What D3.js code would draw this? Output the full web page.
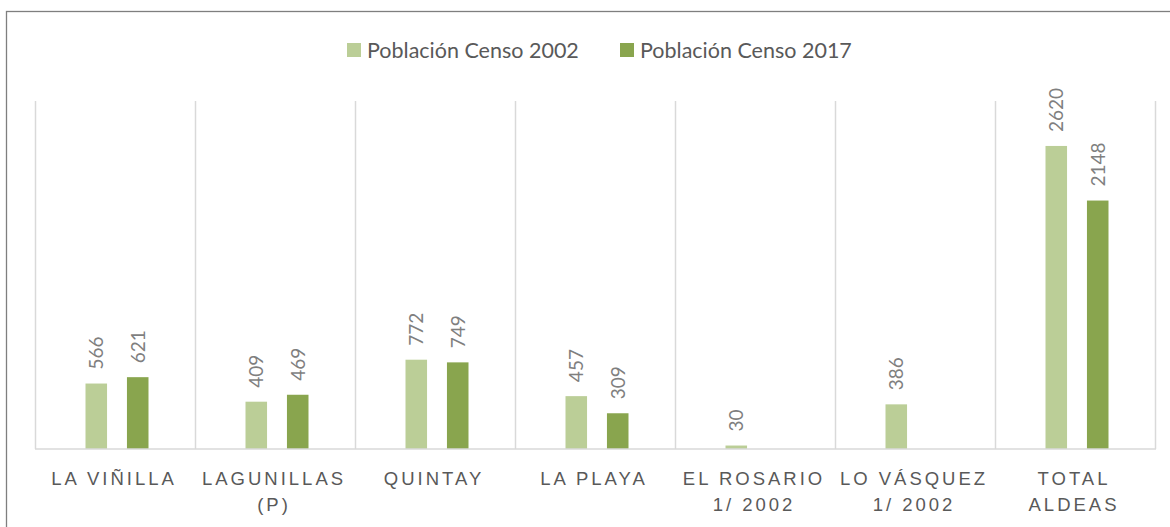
<!DOCTYPE html>
<html><head><meta charset="utf-8">
<script src="https://cdn.jsdelivr.net/npm/d3@7"></script>
<style>
html,body{margin:0;padding:0;background:#fff;}
svg{display:block;font-family:Lato,"Open Sans",sans-serif;}
</style></head>
<body><svg id="chart" width="1170" height="527"></svg>
<script>
const categories = ["LA VIÑILLA", "LAGUNILLAS\n(P)", "QUINTAY", "LA PLAYA", "EL ROSARIO\n1/ 2002", "LO VÁSQUEZ\n1/ 2002", "TOTAL\nALDEAS"];
const seriesNames = ["Población Censo 2002", "Población Censo 2017"];
const values2002 = [566, 409, 772, 457, 30, 386, 2620];
const values2017 = [621, 469, 749, 309, null, null, 2148];
const colors = ["#bbce97", "#89a54e"];
const yMax = 3000;

const svg = d3.select("#chart");
// outer border (extends past viewport right/bottom)
svg.append("rect").attr("x", 6.5).attr("y", 11.5).attr("width", 1180).attr("height", 540)
  .attr("fill", "none").attr("stroke", "#7f7f7f").attr("stroke-width", 1.3);

const plot = {left: 35.5, right: 1155.5, top: 101, bottom: 449};
const x0 = d3.scaleBand().domain(categories).range([plot.left, plot.right]).padding(0);
const x1 = d3.scaleBand().domain([0, 1]).range([50, 113]).paddingInner(0.48);
const y = d3.scaleLinear().domain([0, yMax]).range([plot.bottom, plot.top + 1]);

// vertical gridlines (category separators)
const seps = categories.map(c => x0(c)).concat([plot.right]);
svg.append("g").selectAll("line").data(seps).join("line")
  .attr("x1", d => d).attr("x2", d => d).attr("y1", plot.top).attr("y2", plot.bottom)
  .attr("stroke", "#d9d9d9").attr("stroke-width", 1.5);

// bars
const series = [values2002, values2017];
series.forEach((vals, si) => {
  const g = svg.append("g");
  const data = categories.map((c, i) => ({c, v: vals[i]})).filter(d => d.v != null);
  g.selectAll("rect").data(data).join("rect")
    .attr("x", d => x0(d.c) + x1(si))
    .attr("width", x1.bandwidth())
    .attr("y", d => y(d.v))
    .attr("height", d => y(0) - y(d.v))
    .attr("fill", colors[si]);
  g.selectAll("text").data(data).join("text")
    .attr("transform", d => `translate(${x0(d.c) + x1(si) + x1.bandwidth() / 2 + 7},${y(d.v) - 14}) rotate(-90)`)
    .attr("font-size", 19).attr("fill", "#7f7f7f")
    .text(d => d.v);
});

// axis baseline
svg.append("line").attr("x1", plot.left - 0.5).attr("x2", plot.right + 0.5)
  .attr("y1", plot.bottom).attr("y2", plot.bottom)
  .attr("stroke", "#d9d9d9").attr("stroke-width", 1.5);

// category labels
const xAxis = svg.append("g").attr("transform", `translate(0,${plot.bottom})`)
  .call(d3.axisBottom(x0).tickSize(0).tickFormat(""));
xAxis.select(".domain").remove();
xAxis.selectAll(".tick").each(function(d) {
  const lines = d.split("\n");
  const t = d3.select(this).append("text")
    .attr("text-anchor", "middle").attr("fill", "#595959")
    .attr("font-size", 18.5).attr("letter-spacing", "3px");
  lines.forEach((l, i) => {
    t.append("tspan").attr("x", -1.5).attr("y", 35.5 + i * 26.7).text(l);
  });
});

// legend
const legendX = [347, 620];
const lg = svg.append("g");
seriesNames.forEach((n, i) => {
  lg.append("rect").attr("x", legendX[i]).attr("y", 43).attr("width", 14).attr("height", 14).attr("fill", colors[i]);
  lg.append("text").attr("x", legendX[i] + 20).attr("y", 57.5).attr("font-size", 21.5).attr("fill", "#595959").text(n);
});
</script>
</body></html>
